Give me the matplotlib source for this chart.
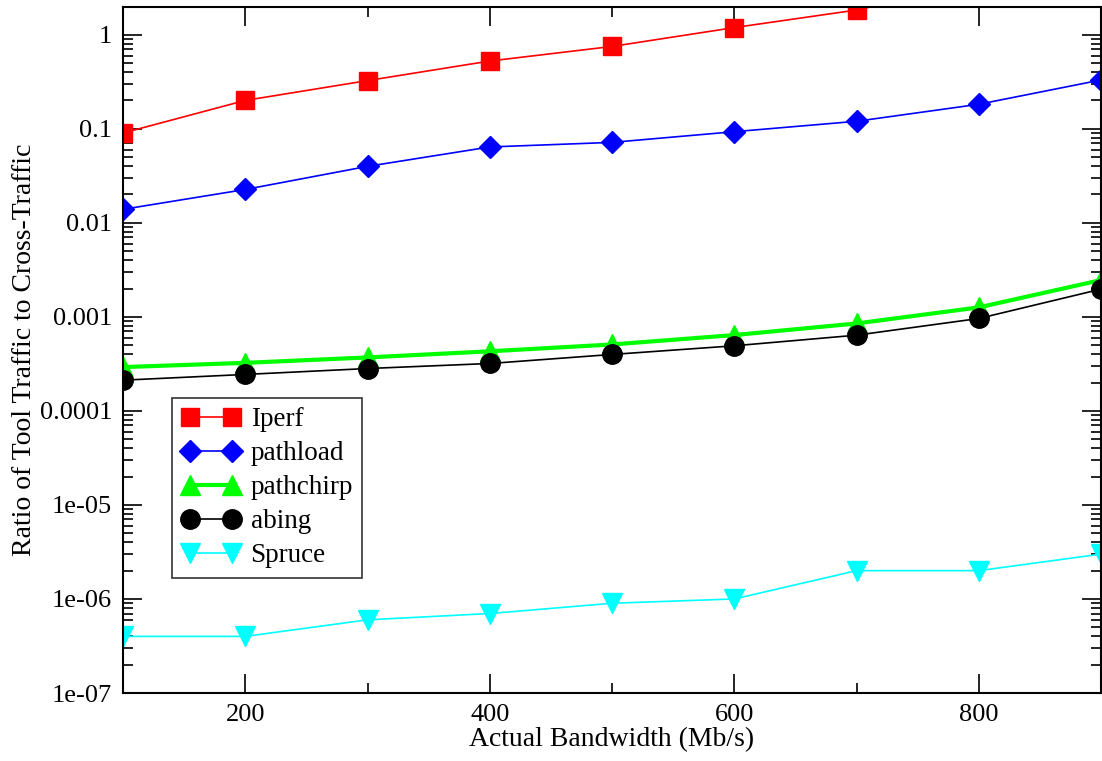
import matplotlib
matplotlib.use("Agg")
import matplotlib.pyplot as plt
from matplotlib.ticker import FixedLocator, FixedFormatter, LogLocator, NullFormatter, MultipleLocator

plt.rcParams['font.family'] = ['Liberation Serif', 'DejaVu Serif']

bandwidth = [100, 200, 300, 400, 500, 600, 700, 800, 900]
iperf = [0.09, 0.2, 0.325, 0.525, 0.75, 1.19, 1.83, 3.5, 6.0]
pathload = [0.0139, 0.0226, 0.0398, 0.064, 0.0716, 0.093, 0.12, 0.182, 0.33]
pathchirp = [2.92e-4, 3.24e-4, 3.7e-4, 4.3e-4, 5.08e-4, 6.4e-4, 8.5e-4, 1.26e-3, 2.46e-3]
abing = [2.12e-4, 2.44e-4, 2.82e-4, 3.19e-4, 3.98e-4, 4.92e-4, 6.38e-4, 9.6e-4, 1.97e-3]
spruce = [4e-7, 4e-7, 6e-7, 7e-7, 9e-7, 1e-6, 2e-6, 2e-6, 3e-6]

ytick_vals = [1, 0.1, 0.01, 0.001, 0.0001, 1e-5, 1e-6, 1e-7]
ytick_labels = ["1", "0.1", "0.01", "0.001", "0.0001", "1e-05", "1e-06", "1e-07"]
xtick_vals = [200, 400, 600, 800]

fig = plt.figure(figsize=(11.02, 7.61), dpi=100)
ax = fig.add_axes([123/1102, 1 - 693/761, (1101-123)/1102, (693-7)/761])

ax.plot(bandwidth, iperf, color='#ff0000', lw=1.2, marker='s', ms=13, label='Iperf')
ax.plot(bandwidth, pathload, color='#0000ff', lw=1.2, marker='D', ms=11.5, label='pathload')
ax.plot(bandwidth, pathchirp, color='#00ff00', lw=3, marker='^', ms=14, label='pathchirp')
ax.plot(bandwidth, abing, color='#000000', lw=1.2, marker='o', ms=14, label='abing')
ax.plot(bandwidth, spruce, color='#00ffff', lw=1.2, marker='v', ms=14, label='Spruce')

ax.set_yscale('log')
ax.set_xlim(100, 900)
ax.set_ylim(1e-7, 1.97)

ax.yaxis.set_major_locator(FixedLocator(ytick_vals))
ax.yaxis.set_major_formatter(FixedFormatter(ytick_labels))
ax.yaxis.set_minor_locator(LogLocator(base=10, subs=range(2, 10), numticks=20))
ax.yaxis.set_minor_formatter(NullFormatter())
ax.xaxis.set_major_locator(FixedLocator(xtick_vals))
ax.xaxis.set_minor_locator(MultipleLocator(100))

ax.tick_params(which='both', direction='in', top=True, right=True, labelsize=19, width=1.2)
ax.tick_params(which='major', length=13.5, pad=8)
ax.tick_params(which='minor', length=7)
for s in ax.spines.values():
    s.set_linewidth(1.5)

ax.set_xlabel('Actual Bandwidth (Mb/s)', fontsize=20, labelpad=1)
ax.set_ylabel('Ratio of Tool Traffic to Cross-Traffic', fontsize=20, labelpad=2)

leg = ax.legend(loc='upper left', bbox_to_anchor=((172-123)/978, (693-398)/686),
                fontsize=19.5, frameon=True, fancybox=False, edgecolor='black',
                numpoints=2, borderpad=0.35, labelspacing=0.33, handlelength=2.15,
                handletextpad=0.4, borderaxespad=0)
leg.get_frame().set_linewidth(1.2)

fig.savefig('out.png', dpi=100)
